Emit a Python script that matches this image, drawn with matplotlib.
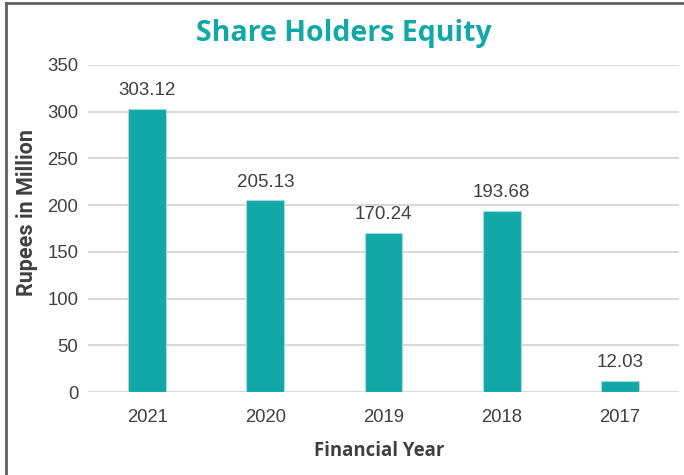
import numpy as np
import matplotlib.pyplot as plt
from matplotlib.lines import Line2D

years = ['2021', '2020', '2019', '2018', '2017']
equity = [303.12, 205.13, 170.24, 193.68, 12.03]
yticks = [0, 50, 100, 150, 200, 250, 300, 350]

teal = '#12a8a8'
txt = '#404040'

fig = plt.figure(figsize=(6.84, 4.75), dpi=100)
ax = fig.add_axes([0.1287, 0.1747, 0.864, 0.6885])

x = np.arange(len(years))
bars = ax.bar(x, equity, width=0.32, color=teal, edgecolor='#9fdcdc', linewidth=0.8, zorder=3)

# etiquetas de valor arriba de cada barra
for xi, v in zip(x, equity):
    ax.annotate(f'{v:.2f}', (xi, v), xytext=(0, 7), textcoords='offset points',
                ha='center', va='bottom', fontsize=13.5, color=txt, family='Liberation Sans')

ax.set_xlim(-0.5, len(years) - 0.5)
ax.set_ylim(0, 350)
ax.set_yticks(yticks)
ax.set_xticks(x)
ax.set_xticklabels(years)
ax.yaxis.grid(True, color='#d9d9d9', linewidth=1.5, zorder=0)
ax.set_axisbelow(True)
for s in ax.spines.values():
    s.set_visible(False)
ax.tick_params(axis='both', length=0, labelsize=13.3, colors=txt)
ax.tick_params(axis='y', pad=7)
ax.tick_params(axis='x', pad=12)
for lab in ax.get_xticklabels() + ax.get_yticklabels():
    lab.set_family('Liberation Sans')

ax.set_xlabel('Financial Year', fontsize=13.4, fontweight='bold', color=txt,
              family='Open Sans')
ax.xaxis.set_label_coords(0.493, -0.15)
ax.set_ylabel('Rupees in Million', fontsize=15.5, fontweight='bold', color=txt,
              family='Roboto', va='center')
ax.yaxis.set_label_coords(-0.103, 0.55)

fig.text(0.503, 0.93, 'Share Holders Equity', ha='center', va='center',
         fontsize=20.5, fontweight='bold', color=teal, family='Open Sans')

# marco gris arriba e izquierda
fig.add_artist(Line2D([6/684, 6/684], [0, 1 - 3/475], color='#606060', lw=2))
fig.add_artist(Line2D([6/684, 1], [1 - 3/475, 1 - 3/475], color='#606060', lw=2))

fig.savefig('out.png', dpi=100)
